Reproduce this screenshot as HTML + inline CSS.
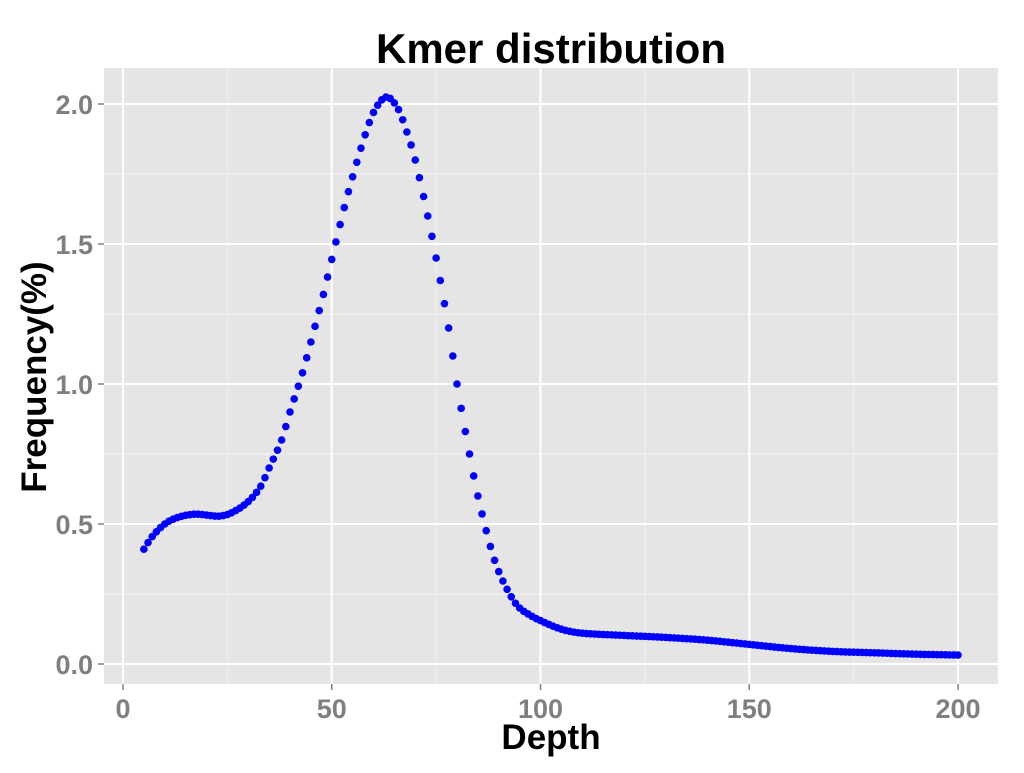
<!DOCTYPE html>
<html><head><style>
body{margin:0;background:#fff;}
svg text{font-family:"Liberation Sans",Arial,sans-serif;font-weight:bold;}
</style></head><body>
<svg id="s" width="1024" height="768" xmlns="http://www.w3.org/2000/svg">
<rect x="0" y="0" width="1024" height="768" fill="#fff"/>
<rect x="104" y="68" width="894" height="616" fill="#e5e5e5"/>
<g stroke="#f2f2f2" stroke-width="1">
<line x1="227.4" y1="68" x2="227.4" y2="684"/><line x1="436.1" y1="68" x2="436.1" y2="684"/>
<line x1="644.9" y1="68" x2="644.9" y2="684"/><line x1="853.6" y1="68" x2="853.6" y2="684"/>
<line x1="104" y1="594" x2="998" y2="594"/><line x1="104" y1="454" x2="998" y2="454"/>
<line x1="104" y1="314" x2="998" y2="314"/><line x1="104" y1="174" x2="998" y2="174"/>
</g>
<g stroke="#fff" stroke-width="2">
<line x1="123" y1="68" x2="123" y2="684"/><line x1="331.75" y1="68" x2="331.75" y2="684"/>
<line x1="540.5" y1="68" x2="540.5" y2="684"/><line x1="749.25" y1="68" x2="749.25" y2="684"/>
<line x1="958" y1="68" x2="958" y2="684"/>
<line x1="104" y1="664" x2="998" y2="664"/><line x1="104" y1="524" x2="998" y2="524"/>
<line x1="104" y1="384" x2="998" y2="384"/><line x1="104" y1="244" x2="998" y2="244"/>
<line x1="104" y1="104" x2="998" y2="104"/>
</g>
<g stroke="#7f7f7f" stroke-width="1.5">
<line x1="123" y1="684" x2="123" y2="690"/><line x1="331.75" y1="684" x2="331.75" y2="690"/>
<line x1="540.5" y1="684" x2="540.5" y2="690"/><line x1="749.25" y1="684" x2="749.25" y2="690"/>
<line x1="958" y1="684" x2="958" y2="690"/>
<line x1="98" y1="664" x2="104" y2="664"/><line x1="98" y1="524" x2="104" y2="524"/>
<line x1="98" y1="384" x2="104" y2="384"/><line x1="98" y1="244" x2="104" y2="244"/>
<line x1="98" y1="104" x2="104" y2="104"/>
</g>
<g fill="#7f7f7f" font-size="27" text-anchor="middle">
<text x="123" y="718">0</text><text x="331.75" y="718">50</text><text x="540.5" y="718">100</text>
<text x="749.25" y="718">150</text><text x="958" y="718">200</text>
</g>
<g fill="#7f7f7f" font-size="27" text-anchor="end">
<text x="93" y="674">0.0</text><text x="93" y="534">0.5</text><text x="93" y="394">1.0</text>
<text x="93" y="254">1.5</text><text x="93" y="114">2.0</text>
</g>
<text x="551" y="749" font-size="35" text-anchor="middle" fill="#000">Depth</text>
<text x="0" y="0" font-size="35" text-anchor="middle" fill="#000" transform="translate(46,377) rotate(-90)">Frequency(%)</text>
<text x="551" y="63" font-size="42" text-anchor="middle" fill="#000">Kmer distribution</text>
<g id="pts" fill="#0000ff"></g>
</svg>
<script>
var k=[[5,0.41],[7,0.455],[10,0.5],[13,0.523],[17,0.535],[20,0.532],[23,0.528],[26,0.54],[30,0.58],[33,0.635],[35,0.7],[38,0.8],[40,0.9],[43,1.04],[45,1.15],[48,1.32],[50,1.445],[53,1.63],[55,1.74],[58,1.89],[60,1.97],[62,2.015],[63,2.025],[64,2.02],[66,1.98],[68,1.9],[70,1.8],[73,1.6],[75,1.45],[78,1.2],[80,1.0],[83,0.75],[85,0.6],[88,0.42],[90,0.33],[93,0.24],[95,0.2],[98,0.17],[100,0.155],[103,0.135],[106,0.12],[110,0.11],[120,0.102],[130,0.095],[140,0.085],[150,0.07],[160,0.055],[170,0.045],[180,0.04],[190,0.035],[200,0.032]];
function f(x){for(var i=0;i<k.length-1;i++){if(x>=k[i][0]&&x<=k[i+1][0]){var p0=k[Math.max(i-1,0)],p1=k[i],p2=k[i+1],p3=k[Math.min(i+2,k.length-1)];var t=(x-p1[0])/(p2[0]-p1[0]);var h=p2[0]-p1[0];var m1=(p2[1]-p0[1])/(p2[0]-p0[0])*h,m2=(p3[1]-p1[1])/(p3[0]-p1[0])*h;var t2=t*t,t3=t2*t;return (2*t3-3*t2+1)*p1[1]+(t3-2*t2+t)*m1+(-2*t3+3*t2)*p2[1]+(t3-t2)*m2;}}return 0;}
var g=document.getElementById('pts'),s='';
for(var d=5;d<=200;d++){s+='<circle cx="'+(123+d*4.175).toFixed(2)+'" cy="'+(664-f(d)*280).toFixed(2)+'" r="3.8"/>';}
g.innerHTML=s;
</script>
</body></html>
